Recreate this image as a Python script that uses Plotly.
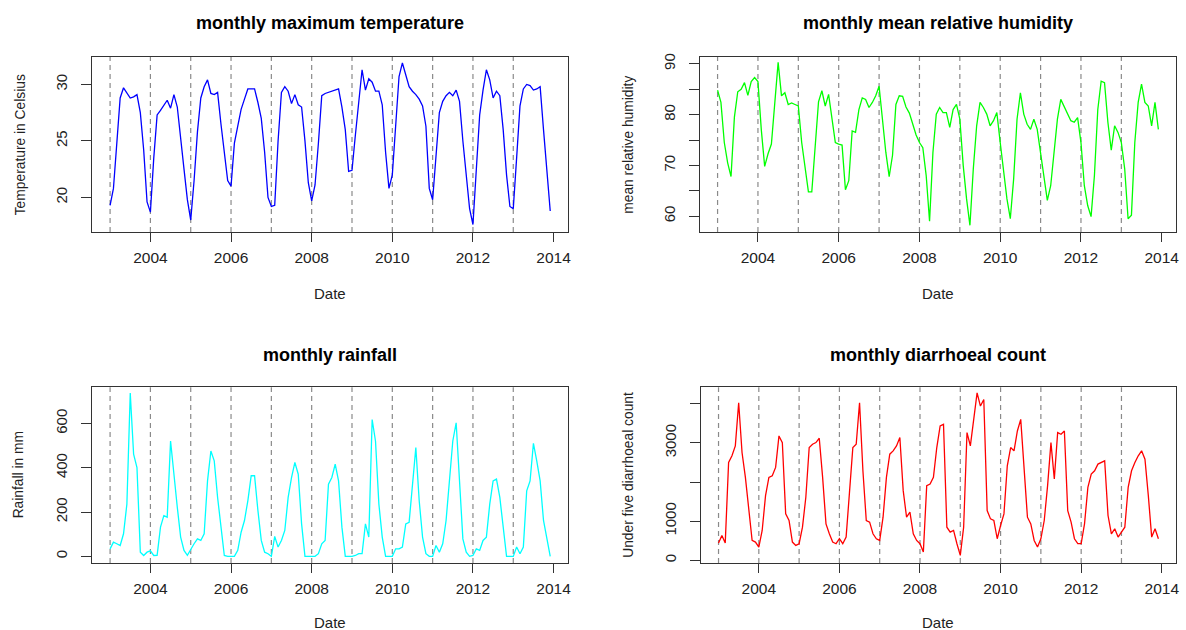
import plotly.graph_objects as go

# ---------------- data (monthly, Jan 2003 .. Dec 2013) ----------------
years = list(range(2003, 2014))
month_index = list(range(132))

temperature = [
    19.3, 20.8, 24.8, 28.8, 29.7, 29.2, 28.8, 28.9, 29.1, 27.5, 24.2, 19.6,   # 2003
    18.7, 23.5, 27.3, 27.7, 28.2, 28.6, 27.9, 29.1, 28.0, 25.5, 22.5, 19.8,   # 2004
    18.0, 21.5, 25.8, 28.8, 29.8, 30.4, 29.2, 29.1, 29.3, 26.5, 24.0, 21.5,   # 2005
    21.0, 24.8, 26.3, 27.8, 28.7, 29.6, 29.6, 29.6, 28.4, 27.0, 24.0, 20.0,   # 2006
    19.2, 19.3, 25.0, 29.3, 29.8, 29.4, 28.3, 29.1, 28.2, 28.0, 25.0, 21.3,   # 2007
    19.7, 21.1, 24.8, 29.0, 29.2, 29.3, 29.4, 29.5, 29.6, 28.0, 26.0, 22.3,   # 2008
    22.4, 25.5, 28.5, 31.3, 29.5, 30.5, 30.2, 29.4, 29.4, 28.2, 24.0, 20.8,   # 2009
    22.0, 26.0, 30.7, 31.9, 30.8, 29.8, 29.4, 29.1, 28.7, 28.1, 26.3, 20.8,   # 2010
    19.8, 24.0, 27.5, 28.5, 29.0, 29.3, 29.0, 29.5, 28.5, 25.0, 22.0, 19.0,   # 2011
    17.6, 22.5, 27.3, 29.5, 31.3, 30.4, 28.8, 29.4, 29.0, 26.0, 22.0, 19.2,   # 2012
    19.0, 23.5, 28.1, 29.6, 30.0, 29.9, 29.5, 29.6, 29.8, 26.0, 22.5, 18.8,   # 2013
]

humidity = [
    84.8, 82.4, 74.5, 70.5, 67.8, 79.5, 84.5, 85.0, 86.3, 83.8, 86.5, 87.3,   # 2003
    86.5, 77.0, 69.8, 72.3, 74.2, 83.0, 90.3, 83.7, 84.3, 82.0, 82.3, 82.0,   # 2004
    81.7, 74.5, 69.3, 64.8, 64.8, 74.5, 82.5, 84.7, 81.7, 84.0, 79.1, 74.5,   # 2005
    74.2, 74.0, 65.2, 67.0, 76.8, 76.5, 81.0, 83.3, 83.0, 81.4, 82.4, 83.7,   # 2006
    85.6, 78.5, 72.6, 67.8, 72.0, 82.0, 83.7, 83.6, 81.5, 80.3, 78.3, 76.0,   # 2007
    74.5, 73.5, 68.0, 59.0, 72.5, 80.1, 81.4, 80.4, 80.4, 77.5, 81.0, 82.0,   # 2008
    79.1, 70.0, 63.4, 58.2, 69.3, 77.8, 82.4, 81.4, 80.1, 77.8, 78.8, 80.4,   # 2009
    74.5, 69.3, 63.4, 59.5, 67.4, 79.1, 84.3, 80.1, 78.1, 77.1, 79.1, 77.1,   # 2010
    72.6, 68.0, 63.1, 66.0, 72.6, 79.1, 83.0, 81.7, 80.1, 78.8, 78.5, 79.4,   # 2011
    74.5, 66.0, 62.1, 59.9, 68.0, 81.0, 86.6, 86.3, 78.5, 73.0, 77.8, 76.5,   # 2012
    74.5, 69.3, 59.5, 60.2, 74.5, 82.4, 86.0, 82.4, 81.7, 77.8, 82.4, 77.1,   # 2013
]

rainfall = [
    34, 64, 57, 49, 102, 236, 738, 461, 401, 19, 4, 19,          # 2003
    25, 4, 5, 132, 184, 177, 521, 356, 222, 87, 27, 5,            # 2004
    34, 57, 79, 72, 102, 341, 476, 431, 266, 132, 4, 0,           # 2005
    0, 0, 27, 109, 162, 251, 364, 364, 207, 72, 19, 12,           # 2006
    0, 90, 42, 72, 117, 266, 356, 424, 371, 147, 0, 0,            # 2007
    0, 0, 12, 57, 72, 326, 356, 416, 341, 132, 0, 0,              # 2008
    0, 4, 12, 12, 147, 87, 618, 520, 236, 87, 0, 0,               # 2009
    0, 34, 34, 42, 147, 154, 326, 491, 251, 87, 12, 0,            # 2010
    0, 49, 19, 57, 162, 356, 521, 603, 326, 79, 19, 0,            # 2011
    4, 34, 27, 72, 87, 236, 341, 349, 266, 132, 0, 0,             # 2012
    0, 42, 12, 42, 296, 341, 510, 430, 341, 162, 72, 0,           # 2013
]

diarrhoea = [
    441, 636, 441, 2500, 2670, 2924, 4025, 2754, 2119, 1229, 508, 466,      # 2003
    339, 763, 1653, 2119, 2161, 2373, 3178, 3008, 1186, 1017, 466, 381,     # 2004
    424, 847, 1610, 2881, 2966, 3008, 3119, 2119, 932, 678, 466, 424,       # 2005
    551, 424, 593, 1737, 2881, 2966, 4025, 2288, 1017, 975, 678, 551,       # 2006
    508, 1102, 2119, 2712, 2797, 2924, 3136, 1780, 1102, 1229, 678, 508,    # 2007
    424, 212, 1907, 1949, 2119, 2881, 3432, 3475, 847, 720, 763, 424,       # 2008
    127, 847, 3263, 2924, 3644, 4280, 3941, 4110, 1271, 1059, 1017, 551,    # 2009
    890, 1186, 2415, 2881, 2797, 3305, 3602, 2415, 1102, 932, 508, 339,     # 2010
    551, 1017, 1907, 3008, 2076, 3263, 3220, 3305, 1271, 975, 551, 424,     # 2011
    424, 932, 1864, 2203, 2288, 2458, 2500, 2542, 1144, 678, 805, 593,      # 2012
    720, 847, 1864, 2288, 2500, 2670, 2797, 2585, 1653, 593, 805, 551,      # 2013
]

x_ticks = [2004, 2006, 2008, 2010, 2012, 2014]
titles = ["monthly maximum temperature", "monthly mean relative humidity",
          "monthly rainfall", "monthly diarrhoeal count"]
y_titles = ["Temperature in Celsius", "mean relative humidity",
            "Rainfall in mm", "Under five diarrhoeal count"]
y_tickvals = [[20, 25, 30], [60, 65, 70, 75, 80, 85, 90],
              [0, 200, 400, 600], [0, 1000, 2000, 3000, 4000]]
y_ticktext = [["20", "25", "30"], ["60", "", "70", "", "80", "", "90"],
              ["0", "200", "400", "600"], ["0", "1000", "", "3000", ""]]
colors = ["#0000ff", "#00ff00", "#00ffff", "#ff0000"]
series = [temperature, humidity, rainfall, diarrhoea]

# ---------------- layout geometry ----------------
W, H = 1186, 630
FONT = "Liberation Sans, Arial, sans-serif"
dates = [2003 + m / 12 for m in month_index]

# panel boxes in pixels: (left, right, top, bottom)
boxes = [(92.7, 569.3, 54, 230), (701.7, 1179, 54, 230),
         (92.7, 569.3, 386, 562.7), (702.7, 1179, 386, 562.7)]
y_ranges = [[16.95, 32.45], [56.9, 91.4], [-30, 764], [-69, 4424]]
x_range = [2002.563, 2014.354]

fig = go.Figure()
annotations = []
shapes = []
layout = {}

for i in range(4):
    n = "" if i == 0 else str(i + 1)
    l, r, t, b = boxes[i]
    xd = [l / W, r / W]
    yd = [1 - b / H, 1 - t / H]
    fig.add_trace(go.Scatter(x=dates, y=series[i], mode="lines",
                             line=dict(color=colors[i], width=1.3),
                             xaxis="x" + n, yaxis="y" + n, showlegend=False,
                             hoverinfo="x+y"))
    layout["xaxis" + n] = dict(
        domain=xd, range=x_range, anchor="y" + n,
        tickvals=x_ticks, ticks="outside", ticklen=9, tickwidth=1,
        tickcolor="#333", showline=True, mirror=True, linecolor="#333",
        linewidth=1, showgrid=False, zeroline=False,
        tickfont=dict(family=FONT, size=15.5, color="#222"),
        ticklabelstandoff=2,
    )
    layout["yaxis" + n] = dict(
        domain=yd, range=y_ranges[i], anchor="x" + n,
        tickvals=y_tickvals[i], ticktext=y_ticktext[i],
        ticks="outside", ticklen=10, tickwidth=1, tickcolor="#333",
        showline=True, mirror=True, linecolor="#333", linewidth=1,
        showgrid=False, zeroline=False, tickangle=-90,
        tickfont=dict(family=FONT, size=15, color="#222"),
        ticklabelstandoff=8,
    )
    for yr in years:
        shapes.append(dict(type="line", xref="x" + n, yref="y" + n + " domain",
                           x0=yr, x1=yr, y0=0, y1=1, layer="below",
                           line=dict(color="#8a8a8a", width=1.2, dash="5px,4px")))
    cx = (xd[0] + xd[1]) / 2
    title_y = 20.5 if i < 2 else 354
    annotations.append(dict(text="<b>" + titles[i] + "</b>", x=cx, y=1 - title_y / H,
                            xref="paper", yref="paper", showarrow=False,
                            xanchor="center", yanchor="middle",
                            font=dict(family=FONT, size=18, color="#000")))
    date_y = 291.7 if i < 2 else 622
    annotations.append(dict(text="Date", x=cx, y=1 - date_y / H,
                            xref="paper", yref="paper", showarrow=False,
                            xanchor="center", yanchor="middle",
                            font=dict(family=FONT, size=15, color="#222")))
    ytx = [20, 630, 18.3, 629.3][i]
    annotations.append(dict(text=y_titles[i], x=ytx / W, y=(yd[0] + yd[1]) / 2,
                            xref="paper", yref="paper", showarrow=False,
                            textangle=-90, xanchor="center", yanchor="middle",
                            font=dict(family=FONT, size=13.8, color="#222")))

fig.update_layout(
    width=W, height=H,
    margin=dict(l=0, r=0, t=0, b=0),
    paper_bgcolor="white", plot_bgcolor="white",
    annotations=annotations, shapes=shapes,
    showlegend=False,
    **layout,
)

fig.write_html("out.html",
               config={"displayModeBar": False},
               post_script="document.body.style.margin='0';"
                           "document.body.style.overflow='hidden';")
